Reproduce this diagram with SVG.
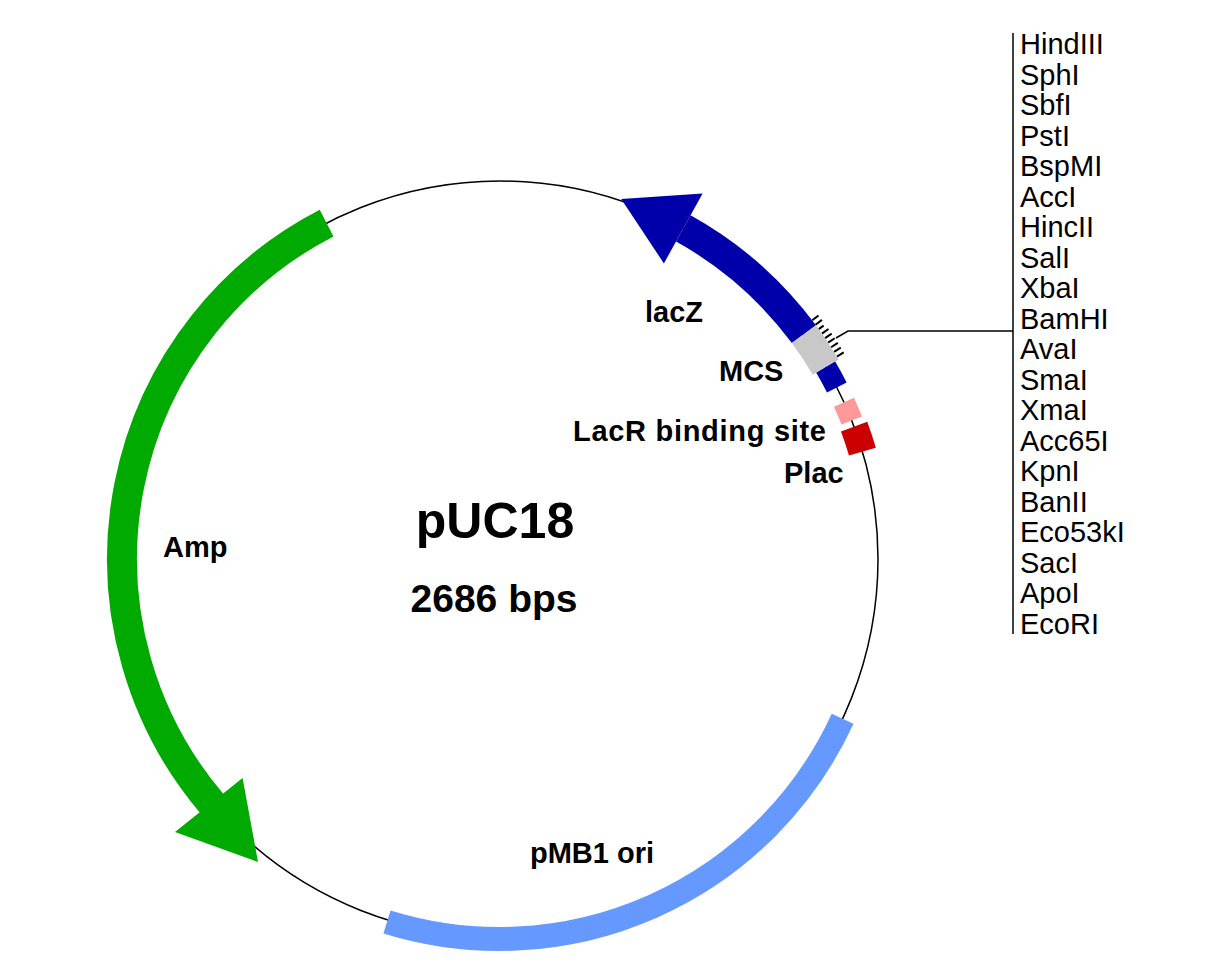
<svg xmlns="http://www.w3.org/2000/svg" width="1216" height="977" viewBox="0 0 1216 977">
<style>
.lb{font-family:"Liberation Sans",Arial,sans-serif;font-weight:bold;font-size:29px;fill:#000}
.en{font-family:"Liberation Sans",Arial,sans-serif;font-size:29px;fill:#000}
.band{fill:none}
.tk{stroke:#000;stroke-width:2}
</style>
<rect width="1216" height="977" fill="#fff"/>
<circle cx="500" cy="559" r="378" fill="none" stroke="#000" stroke-width="1.5"/>
<g id="connectors">
<g id="ticks">
<line class="tk" x1="500" y1="166" x2="500" y2="158" transform="rotate(52.6 500 559)"/>
<line class="tk" x1="500" y1="166" x2="500" y2="158" transform="rotate(53.4 500 559)"/>
<line class="tk" x1="500" y1="166" x2="500" y2="160" transform="rotate(54.2 500 559)"/>
<line class="tk" x1="500" y1="166" x2="500" y2="158" transform="rotate(55 500 559)"/>
<line class="tk" x1="500" y1="166" x2="500" y2="158" transform="rotate(55.8 500 559)"/>
<line class="tk" x1="500" y1="166" x2="500" y2="158" transform="rotate(56.6 500 559)"/>
<line class="tk" x1="500" y1="166" x2="500" y2="158" transform="rotate(57.4 500 559)"/>
<line class="tk" x1="500" y1="166" x2="500" y2="158" transform="rotate(58.2 500 559)"/>
<line class="tk" x1="500" y1="166" x2="500" y2="158" transform="rotate(59 500 559)"/>
</g>
<polyline points="836,338 848,331 1013,331" fill="none" stroke="#000" stroke-width="1.5"/>
<line x1="1013" y1="33" x2="1013" y2="634" stroke="#000" stroke-width="1.5"/>
</g>
<g id="lacZ">
<path class="band" d="M803.9,334.2 A378,378 0 0 0 683.3,228.4" stroke="#0000aa" stroke-width="30"/>
<polygon points="663.9,263.4 702.6,193.4 621.2,199" fill="#0000aa"/>
<text class="lb" x="645" y="322">lacZ</text>
</g>
<g id="MCS">
<path class="band" d="M803.9,334.2 A378,378 0 0 1 825.7,367.2" stroke="#c8c8c8" stroke-width="30"/>
<path class="band" d="M825.7,367.2 A378,378 0 0 1 836.8,387.4" stroke="#0000aa" stroke-width="22"/>
<text class="lb" x="719" y="381">MCS</text>
</g>
<g id="LacR">
<path class="band" d="M844,402.2 A378,378 0 0 1 851.7,420.5" stroke="#ff9999" stroke-width="22"/>
<text class="lb" x="573" y="441" textLength="253">LacR binding site</text>
</g>
<g id="Plac">
<path class="band" d="M854.1,426.6 A378,378 0 0 1 862.4,451.6" stroke="#cc0000" stroke-width="28"/>
<text class="lb" x="784" y="483">Plac</text>
</g>
<g id="pMB1">
<path class="band" d="M842.6,718.7 A378,378 0 0 1 387,922" stroke="#6699ff" stroke-width="24"/>
<text class="lb" x="530" y="863">pMB1 ori</text>
</g>
<g id="Amp">
<path class="band" d="M326.6,223.1 A378,378 0 0 0 212.2,804" stroke="#00aa00" stroke-width="30"/>
<polygon points="242.6,778.1 175,832 258,862" fill="#00aa00"/>
<text class="lb" x="163" y="557">Amp</text>
</g>
<g id="title">
<text x="495" y="538" text-anchor="middle" font-family="Liberation Sans, Arial, sans-serif" font-weight="bold" font-size="50">pUC18</text>
<text x="494" y="612" text-anchor="middle" font-family="Liberation Sans, Arial, sans-serif" font-weight="bold" font-size="39">2686 bps</text>
</g>
<g id="enzymes">
<text class="en" x="1020" y="54">HindIII</text>
<text class="en" x="1020" y="84.5">SphI</text>
<text class="en" x="1020" y="115">SbfI</text>
<text class="en" x="1020" y="145.5">PstI</text>
<text class="en" x="1020" y="176">BspMI</text>
<text class="en" x="1020" y="206.5">AccI</text>
<text class="en" x="1020" y="237">HincII</text>
<text class="en" x="1020" y="267.5">SalI</text>
<text class="en" x="1020" y="298">XbaI</text>
<text class="en" x="1020" y="328.5">BamHI</text>
<text class="en" x="1020" y="359">AvaI</text>
<text class="en" x="1020" y="389.5">SmaI</text>
<text class="en" x="1020" y="420">XmaI</text>
<text class="en" x="1020" y="450.5">Acc65I</text>
<text class="en" x="1020" y="481">KpnI</text>
<text class="en" x="1020" y="511.5">BanII</text>
<text class="en" x="1020" y="542">Eco53kI</text>
<text class="en" x="1020" y="572.5">SacI</text>
<text class="en" x="1020" y="603">ApoI</text>
<text class="en" x="1020" y="633.5">EcoRI</text>
</g>
</svg>
